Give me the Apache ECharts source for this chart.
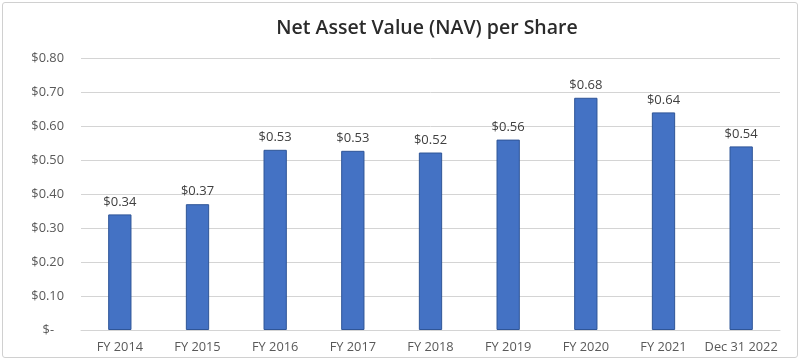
<!DOCTYPE html>
<html><head><meta charset="utf-8">
<script src="https://cdn.jsdelivr.net/npm/echarts@6/dist/echarts.min.js"></script>
<style>html,body{margin:0;padding:0;background:#fff;}#c{width:800px;height:360px;}
#frame{position:absolute;left:2px;top:2px;width:794px;height:354px;border:1px solid #d0d0d0;border-radius:3px;pointer-events:none;}</style>
</head><body><div id="c"></div><div id="frame"></div>
<script>
const categories = ["FY 2014","FY 2015","FY 2016","FY 2017","FY 2018","FY 2019","FY 2020","FY 2021","Dec 31 2022"];
const navValues = [0.34,0.37,0.53,0.527,0.522,0.56,0.683,0.64,0.54];
const yTicks = [0,0.1,0.2,0.3,0.4,0.5,0.6,0.7,0.8];
const chart = echarts.init(document.getElementById('c'), null, {renderer:'canvas'});
const font = "'Open Sans', 'Noto Sans', sans-serif";
chart.setOption({
  animation:false,
  title:{text:"Net Asset Value (NAV) per Share", left:422, top:13, textAlign:'center',
    textStyle:{fontFamily:font, fontSize:19.5, fontWeight:600, color:'#2b2b2b'}},
  grid:{left:81, right:20, top:58, bottom:30, containLabel:false},
  xAxis:{type:'category', data:categories,
    axisLine:{lineStyle:{color:'#d4d4d4', width:1}}, axisTick:{show:false},
    axisLabel:{fontFamily:font, fontSize:12.8, color:'#595959', margin:11, interval:0}},
  yAxis:{type:'value', min:0, max:0.8, interval:0.1,
    axisLine:{show:false}, axisTick:{show:false},
    splitLine:{lineStyle:{color:'#d4d4d4', width:1}},
    axisLabel:{fontFamily:font, fontSize:12.8, color:'#595959', margin:17,
      formatter:v=>{ if(Math.abs(v)<1e-9) return '$-   '; return '$'+v.toFixed(2);}}},
  series:[{type:'bar', data:navValues, barWidth:'30%',
    itemStyle:{color:'#4472C4', borderColor:'#2f5597', borderWidth:1},
    label:{show:true, position:'top', distance:6, fontFamily:font, fontSize:13, color:'#404040',
      formatter:p=>'$'+p.value.toFixed(2)}}]
});
</script></body></html>
